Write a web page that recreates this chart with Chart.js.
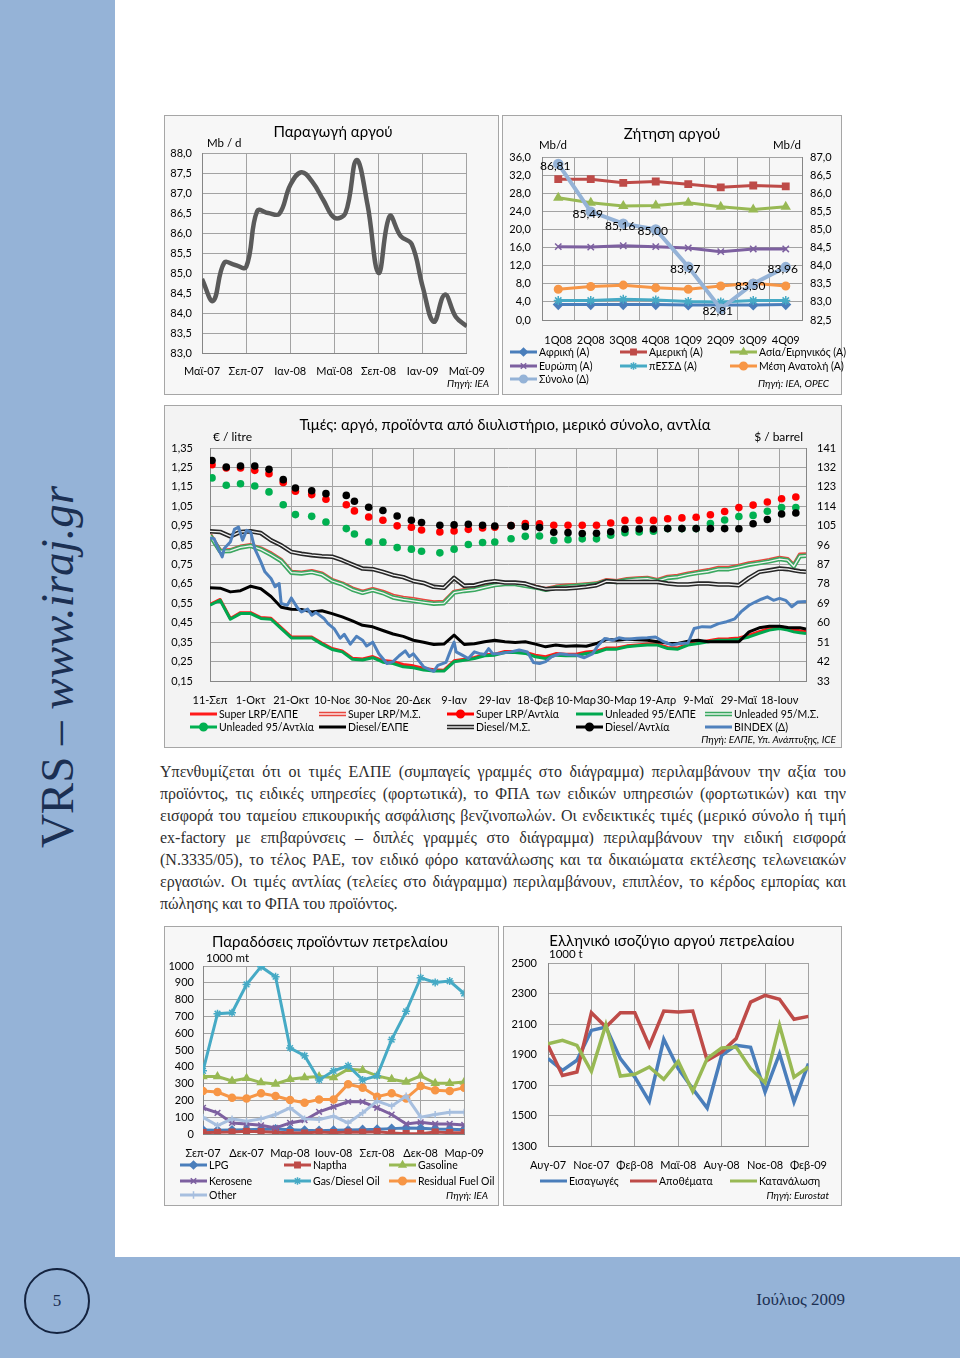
<!DOCTYPE html>
<html lang="el">
<head>
<meta charset="utf-8">
<title>VRS - σελίδα 5</title>
<script src="https://cdn.jsdelivr.net/npm/chart.js@4"></script>
<style>
  html, body { margin: 0; padding: 0; }
  body { width: 960px; height: 1358px; position: relative; overflow: hidden; background: #fff;
         font-family: Lato, "Noto Sans", sans-serif; }
  .side { position: absolute; left: 0; top: 0; width: 115px; height: 1358px; background: #95b3d7; }
  .foot { position: absolute; left: 0; top: 1257px; width: 960px; height: 101px; background: #95b3d7; }
  .brand { position: absolute; left: 57px; top: 667px; transform: translate(-50%, -50%) rotate(-90deg);
           font-family: "Liberation Serif", serif; font-size: 47px; color: #1b2f52; white-space: nowrap; }
  .pageno { position: absolute; left: 24px; top: 1268px; width: 66px; height: 66px; box-sizing: border-box;
            border: 2px solid #14233f; border-radius: 50%; font-family: "Liberation Serif", serif; font-size: 17px;
            color: #1b2f52; display: flex; align-items: center; justify-content: center; }
  .month { position: absolute; left: 845px; top: 1300px; transform: translate(-100%, -50%);
           font-family: "Liberation Serif", serif; font-size: 17px; color: #1b2f52; white-space: nowrap; }
  .box { position: absolute; box-sizing: border-box; border: 1.5px solid #a6a6a6; background: #f7f7f7; }
  canvas { position: absolute; z-index: 2; }
  .t { position: absolute; z-index: 3; line-height: 1; white-space: nowrap; color: #000; }
  .para { position: absolute; left: 160px; top: 761px; width: 686px; font-family: "Liberation Serif", serif;
          font-size: 16px; line-height: 22px; color: #2e2e2e; }
  .para div { text-align: justify; text-align-last: justify; }
  .para div.last { text-align-last: left; }
</style>
</head>
<body>
<div class="side"></div>
<div class="foot"></div>
<div class="brand">VRS – <i>www.iraj.gr</i></div>
<div class="pageno">5</div>
<div class="month">Ιούλιος 2009</div>

<div class="box" style="left:164px;top:115px;width:335px;height:280px"></div>
<div class="box" style="left:502px;top:115px;width:340px;height:280px"></div>
<div class="box" style="left:164px;top:405px;width:678px;height:343px;background:#f3f3f3"></div>
<div class="box" style="left:164px;top:926px;width:335px;height:280px"></div>
<div class="box" style="left:503px;top:926px;width:339px;height:280px"></div>

<div class="para">
  <div>Υπενθυμίζεται ότι οι τιμές ΕΛΠΕ (συμπαγείς γραμμές στο διάγραμμα) περιλαμβάνουν την αξία του</div>
  <div>προϊόντος, τις ειδικές υπηρεσίες (φορτωτικά), το ΦΠΑ των ειδικών υπηρεσιών (φορτωτικών) και την</div>
  <div>εισφορά του ταμείου επικουρικής ασφάλισης βενζινοπωλών. Οι ενδεικτικές τιμές (μερικό σύνολο ή τιμή</div>
  <div>ex-factory με επιβαρύνσεις – διπλές γραμμές στο διάγραμμα) περιλαμβάνουν την ειδική εισφορά</div>
  <div>(Ν.3335/05), το τέλος ΡΑΕ, τον ειδικό φόρο κατανάλωσης και τα δικαιώματα εκτέλεσης τελωνειακών</div>
  <div>εργασιών. Οι τιμές αντλίας (τελείες στο διάγραμμα) περιλαμβάνουν, επιπλέον, το κέρδος εμπορίας και</div>
  <div class="last">πώλησης και το ΦΠΑ του προϊόντος.</div>
</div>

<script>
// ---- Παραγωγή αργού (monthly, Μαϊ-07 .. Μαϊ-09) ----
const prodTicks = ['Μαϊ-07', 'Σεπ-07', 'Ιαν-08', 'Μαϊ-08', 'Σεπ-08', 'Ιαν-09', 'Μαϊ-09'];
const prodTickIdx = [0, 4, 8, 12, 16, 20, 24];
const prodValues = [84.85, 84.3, 85.25, 85.2, 85.15, 86.55, 86.5, 86.48, 87.2, 87.52, 87.28, 86.82, 86.38,
                    86.5, 87.82, 86.7, 85.0, 86.42, 85.92, 85.72, 84.65, 83.78, 84.46, 83.9, 83.67];

// ---- Ζήτηση αργού (quarterly) ----
const quarters = ['1Q08', '2Q08', '3Q08', '4Q08', '1Q09', '2Q09', '3Q09', '4Q09'];
const africa = [3.4, 3.4, 3.4, 3.4, 3.3, 3.3, 3.3, 3.4];
const america = [31.1, 31.1, 30.3, 30.6, 30.0, 29.3, 29.7, 29.5];
const asia = [27.0, 25.9, 25.2, 25.3, 25.9, 25.0, 24.4, 25.0];
const europe = [16.2, 16.1, 16.4, 16.2, 15.9, 15.1, 15.7, 15.7];
const fsu = [4.3, 4.3, 4.6, 4.4, 4.1, 4.0, 4.3, 4.3];
const mideast = [6.8, 7.4, 7.7, 7.1, 6.8, 7.5, 8.1, 7.5];
const demandTotal = [86.81, 85.49, 85.16, 85.00, 83.97, 82.81, 83.50, 83.96];

// ---- Τιμές (days since 11-Σεπ-08) ----
const priceTicks = ['11-Σεπ', '1-Οκτ', '21-Οκτ', '10-Νοε', '30-Νοε', '20-Δεκ', '9-Ιαν', '29-Ιαν',
                    '18-Φεβ', '10-Μαρ', '30-Μαρ', '19-Απρ', '9-Μαϊ', '29-Μαϊ', '18-Ιουν'];
const priceTickDays = [0, 20, 40, 60, 80, 100, 120, 140, 160, 180, 200, 220, 240, 260, 280];
const litreTicks = [0.15, 0.25, 0.35, 0.45, 0.55, 0.65, 0.75, 0.85, 0.95, 1.05, 1.15, 1.25, 1.35];
const barrelTicks = [33, 42, 51, 60, 69, 78, 87, 96, 105, 114, 123, 132, 141];

const lineDays = [0, 5, 10, 15, 20, 25, 30, 35, 40, 45, 50, 55, 60, 65, 70, 75, 80, 85, 90, 95, 100, 105,
                  110, 115, 120, 125, 130, 135, 140, 145, 150, 155, 160, 165, 170, 175, 180, 185, 190, 195,
                  200, 205, 210, 215, 220, 225, 230, 235, 240, 245, 250, 255, 260, 265, 270, 275, 280,
                  284, 287, 290, 293];
const superElpe = [0.545, 0.570, 0.472, 0.502, 0.502, 0.477, 0.473, 0.425, 0.377, 0.377, 0.377, 0.345, 0.317,
                   0.305, 0.267, 0.263, 0.276, 0.255, 0.250, 0.235, 0.228, 0.216, 0.208, 0.206, 0.254, 0.262,
                   0.271, 0.285, 0.288, 0.302, 0.302, 0.298, 0.283, 0.275, 0.291, 0.288, 0.288, 0.299, 0.304,
                   0.320, 0.320, 0.331, 0.336, 0.340, 0.340, 0.323, 0.320, 0.340, 0.349, 0.358, 0.366, 0.367,
                   0.372, 0.386, 0.404, 0.421, 0.429, 0.423, 0.414, 0.409, 0.406];
const superMs = [0.904, 0.820, 0.823, 0.841, 0.849, 0.832, 0.806, 0.772, 0.712, 0.708, 0.715, 0.703, 0.669,
                 0.652, 0.626, 0.609, 0.623, 0.609, 0.588, 0.578, 0.571, 0.562, 0.554, 0.557, 0.609, 0.618,
                 0.623, 0.635, 0.647, 0.652, 0.652, 0.643, 0.635, 0.623, 0.635, 0.640, 0.643, 0.647, 0.652,
                 0.669, 0.664, 0.674, 0.678, 0.681, 0.669, 0.686, 0.691, 0.703, 0.712, 0.720, 0.732, 0.732,
                 0.743, 0.755, 0.763, 0.772, 0.784, 0.777, 0.745, 0.800, 0.801];
const unlElpe = [0.540, 0.566, 0.468, 0.497, 0.497, 0.472, 0.468, 0.420, 0.372, 0.372, 0.372, 0.340, 0.312,
                 0.300, 0.262, 0.258, 0.270, 0.247, 0.240, 0.223, 0.218, 0.206, 0.201, 0.201, 0.249, 0.257,
                 0.266, 0.280, 0.283, 0.297, 0.297, 0.292, 0.275, 0.266, 0.283, 0.280, 0.280, 0.292, 0.297,
                 0.314, 0.314, 0.326, 0.331, 0.335, 0.335, 0.317, 0.314, 0.335, 0.343, 0.352, 0.360, 0.360,
                 0.365, 0.377, 0.395, 0.412, 0.420, 0.412, 0.403, 0.398, 0.395];
const unlMs = [0.900, 0.818, 0.820, 0.838, 0.846, 0.828, 0.800, 0.768, 0.708, 0.704, 0.711, 0.698, 0.665,
               0.648, 0.621, 0.604, 0.618, 0.603, 0.580, 0.570, 0.563, 0.555, 0.548, 0.551, 0.605, 0.614,
               0.620, 0.632, 0.644, 0.649, 0.649, 0.640, 0.632, 0.620, 0.631, 0.636, 0.640, 0.644, 0.649,
               0.665, 0.660, 0.670, 0.674, 0.677, 0.665, 0.681, 0.686, 0.698, 0.707, 0.714, 0.726, 0.726,
               0.737, 0.749, 0.757, 0.766, 0.778, 0.772, 0.740, 0.793, 0.795];
const dieselElpe = [0.630, 0.628, 0.609, 0.615, 0.638, 0.625, 0.585, 0.530, 0.520, 0.518, 0.506, 0.512, 0.497,
                    0.480, 0.460, 0.437, 0.429, 0.410, 0.392, 0.380, 0.360, 0.350, 0.338, 0.340, 0.386, 0.338,
                    0.342, 0.352, 0.360, 0.352, 0.348, 0.352, 0.340, 0.326, 0.335, 0.329, 0.331, 0.329, 0.343,
                    0.365, 0.360, 0.365, 0.362, 0.360, 0.352, 0.345, 0.343, 0.355, 0.360, 0.352, 0.352, 0.352,
                    0.352, 0.403, 0.424, 0.432, 0.432, 0.426, 0.424, 0.424, 0.417];
const dieselMs = [0.921, 0.918, 0.895, 0.918, 0.921, 0.912, 0.875, 0.849, 0.815, 0.805, 0.798, 0.793, 0.790,
                  0.772, 0.750, 0.729, 0.726, 0.712, 0.695, 0.685, 0.665, 0.655, 0.635, 0.630, 0.681, 0.640,
                  0.643, 0.657, 0.664, 0.657, 0.657, 0.652, 0.635, 0.623, 0.626, 0.626, 0.630, 0.635, 0.643,
                  0.664, 0.660, 0.660, 0.660, 0.660, 0.660, 0.652, 0.647, 0.647, 0.652, 0.652, 0.647, 0.647,
                  0.643, 0.681, 0.712, 0.720, 0.729, 0.726, 0.720, 0.715, 0.712];

const pumpDays = [1, 8, 15, 22, 29, 36, 42, 50, 57, 67, 71, 78, 85, 92, 99, 104, 113, 120, 127, 134, 140,
                  148, 155, 162, 169, 176, 183, 190, 197, 204, 211, 218, 225, 232, 239, 246, 253, 260, 267,
                  274, 281, 288];
const superPump = [1.264, 1.247, 1.247, 1.235, 1.218, 1.172, 1.127, 1.110, 1.086, 1.058, 1.026, 0.995, 0.978,
                   0.949, 0.942, 0.928, 0.918, 0.923, 0.931, 0.938, 0.942, 0.950, 0.961, 0.960, 0.952, 0.952,
                   0.952, 0.952, 0.964, 0.977, 0.977, 0.977, 0.986, 0.990, 0.993, 1.006, 1.023, 1.043, 1.056,
                   1.072, 1.089, 1.098];
const unlPump = [1.196, 1.158, 1.166, 1.154, 1.124, 1.058, 1.007, 0.998, 0.969, 0.935, 0.907, 0.866, 0.865,
                 0.837, 0.829, 0.818, 0.810, 0.829, 0.853, 0.863, 0.866, 0.883, 0.895, 0.897, 0.874, 0.878,
                 0.882, 0.882, 0.901, 0.914, 0.918, 0.921, 0.935, 0.935, 0.935, 0.961, 0.979, 0.997, 1.003,
                 1.024, 1.043, 1.043];
const dieselPump = [1.286, 1.252, 1.257, 1.257, 1.240, 1.187, 1.144, 1.130, 1.115, 1.106, 1.076, 1.045, 1.028,
                    1.000, 0.978, 0.966, 0.952, 0.954, 0.957, 0.952, 0.948, 0.950, 0.945, 0.940, 0.916, 0.914,
                    0.910, 0.911, 0.919, 0.932, 0.933, 0.933, 0.935, 0.935, 0.935, 0.935, 0.935, 0.934, 0.960,
                    0.982, 1.010, 1.015];

const bindexDays = [0, 2, 4, 6, 7, 10, 12, 14, 16, 18, 20, 22, 25, 27, 30, 32, 34, 35, 38, 40, 43, 45, 48, 50,
                    52, 56, 58, 61, 64, 66, 69, 72, 75, 77, 80, 83, 87, 90, 93, 96, 98, 100, 105, 110, 112,
                    116, 118, 120, 121, 124, 127, 130, 133, 135, 137, 139, 143, 148, 152, 156, 159, 162, 165,
                    168, 172, 176, 180, 184, 188, 191, 194, 198, 201, 205, 210, 215, 219, 223, 227, 231, 235,
                    238, 242, 246, 250, 254, 258, 261, 265, 268, 271, 274, 277, 280, 283, 286, 289, 293];
const bindex = [99.3, 99.0, 94.4, 90.5, 94.4, 97.4, 103.3, 104.4, 98.3, 102.8, 102.1, 94.4, 88.2, 83.6, 80.5,
                76.7, 78.2, 68.9, 68.1, 71.5, 66.9, 65.0, 66.3, 63.5, 64.8, 62.0, 59.6, 57.3, 52.8, 54.6,
                50.1, 53.7, 51.9, 49.2, 51.0, 45.6, 41.1, 42.0, 44.7, 47.0, 44.3, 45.6, 39.6, 37.5, 40.2,
                41.6, 46.5, 51.0, 46.5, 45.0, 43.4, 46.5, 45.6, 45.3, 48.0, 45.6, 45.8, 46.5, 47.4, 46.5,
                41.6, 41.1, 42.0, 44.3, 45.6, 45.2, 45.0, 43.8, 45.6, 49.7, 52.7, 51.9, 53.0, 52.4, 52.8,
                53.0, 53.4, 51.2, 49.7, 50.4, 50.6, 57.3, 58.2, 58.0, 59.6, 60.5, 61.8, 65.0, 68.1, 69.6,
                70.9, 72.0, 70.4, 71.3, 70.4, 67.4, 69.6, 69.9];

// ---- Παραδόσεις προϊόντων (monthly, Σεπ-07 .. Μαρ-09) ----
const delivTicks = ['Σεπ-07', 'Δεκ-07', 'Μαρ-08', 'Ιουν-08', 'Σεπ-08', 'Δεκ-08', 'Μαρ-09'];
const lpg = [24, 22, 24, 26, 28, 30, 26, 22, 20, 22, 24, 26, 28, 32, 36, 34, 30, 28, 26];
const naptha = [8, 10, 12, 16, 14, 10, 8, 6, 12, 8, 12, 10, 14, 6, 2, 2, 12, 8, 8];
const gasoline = [342, 342, 316, 332, 306, 298, 326, 336, 342, 336, 386, 380, 346, 326, 310, 346, 302, 302, 310];
const kerosene = [156, 126, 66, 60, 52, 36, 66, 82, 132, 162, 192, 192, 156, 116, 60, 70, 60, 60, 54];
const gasDiesel = [376, 716, 722, 890, 996, 936, 512, 466, 322, 376, 406, 322, 346, 562, 730, 930, 902, 910, 836];
const residual = [256, 250, 216, 212, 242, 226, 202, 186, 206, 206, 296, 276, 222, 242, 212, 286, 260, 256, 276];
const otherProd = [100, 50, 90, 76, 90, 116, 156, 90, 86, 106, 66, 126, 196, 166, 226, 100, 116, 130, 130];

// ---- Ελληνικό ισοζύγιο (monthly, Αυγ-07 .. Φεβ-09) ----
const balanceTicks = ['Αυγ-07', 'Νοε-07', 'Φεβ-08', 'Μαϊ-08', 'Αυγ-08', 'Νοε-08', 'Φεβ-09'];
const imports = [1873, 1796, 1862, 2058, 2080, 1873, 1752, 1593, 2000, 1807, 1676, 1549, 1894, 1960, 1947,
                 1654, 1905, 1588, 1840];
const stocks = [1960, 1763, 1785, 2174, 2080, 2174, 2174, 1956, 2185, 2179, 2185, 1862, 1916, 2004, 2244,
                2288, 2262, 2131, 2150];
const consumption = [1971, 1993, 1960, 1790, 2096, 1759, 1770, 1818, 1737, 1855, 1658, 1873, 1943, 1949, 1807,
                     1715, 2091, 1752, 1818];

const FONT = 'Lato, "Noto Sans", sans-serif';
Chart.defaults.font.family = FONT;
Chart.defaults.font.size = 11;
Chart.defaults.color = '#000';
Chart.defaults.animation = false;
Chart.defaults.responsive = false;
Chart.defaults.events = [];
Chart.defaults.plugins.legend.display = false;
Chart.defaults.plugins.tooltip.enabled = false;

const GRID = '#a3a3a3';
const AXIS = '#868686';

function makeCanvas(x, y, w, h) {
    const c = document.createElement('canvas');
    c.width = w;
    c.height = h;
    c.style.left = x + 'px';
    c.style.top = y + 'px';
    c.style.width = w + 'px';
    c.style.height = h + 'px';
    document.body.appendChild(c);
    return c;
}

function txt(x, y, s, o = {}) {
    const d = document.createElement('div');
    d.className = 't';
    d.textContent = s;
    d.style.left = x + 'px';
    d.style.top = y + 'px';
    d.style.fontSize = (o.size || 11) + 'px';
    if (o.italic) d.style.fontStyle = 'italic';
    const ax = o.align === 'c' ? '-50%' : o.align === 'r' ? '-100%' : '0';
    d.style.transform = `translate(${ax},-50%)`;
    document.body.appendChild(d);
}

const pts = (xs, ys) => xs.map((x, i) => ({ x, y: ys[i] }));
const comma = (v, n) => v.toFixed(n).replace('.', ',');
const fixedTicks = list => s => { s.ticks = list.map(v => ({ value: v })); };
const fixW = w => s => { s.width = w; };
const fixH = h => s => { s.height = h; };

// y axis helper
function yAxis(min, max, list, dec, pad, w, pos) {
    return {
        position: pos || 'left', min, max,
        afterBuildTicks: fixedTicks(list),
        ticks: { callback: v => dec == null ? v : comma(v, dec), padding: pad },
        grid: { color: GRID, drawTicks: false, drawOnChartArea: pos !== 'right' },
        border: { color: AXIS },
        afterFit: fixW(w)
    };
}
function xLinear(min, max, tickVals, labels, pad, h) {
    return {
        type: 'linear', min, max,
        afterBuildTicks: fixedTicks(tickVals),
        ticks: { callback: (v, i) => labels[i], padding: pad, maxRotation: 0, autoSkip: false },
        grid: { color: GRID, drawTicks: false },
        border: { color: AXIS },
        afterFit: fixH(h)
    };
}
function markerLine(data, color, style, extra) {
    return Object.assign({
        data, borderColor: color, backgroundColor: color, borderWidth: 3,
        pointStyle: style, pointRadius: 3.8, pointBackgroundColor: color, pointBorderColor: color,
        pointBorderWidth: 1.5, tension: 0
    }, extra || {});
}

// ---------- Chart 1: Παραγωγή αργού ----------
new Chart(makeCanvas(165, 116, 332, 277), {
    type: 'line',
    data: { datasets: [{ data: prodValues.map((v, i) => ({ x: i, y: v })), borderColor: '#5a5a5a',
                         borderWidth: 4.5, pointRadius: 0, tension: 0.4 }] },
    options: {
        devicePixelRatio: 1,
        layout: { padding: { top: 37, right: 22, left: 0, bottom: 0 } },
        scales: {
            x: xLinear(0, 24, prodTickIdx, prodTicks, 12, 40),
            y: yAxis(83, 88, [83, 83.5, 84, 84.5, 85, 85.5, 86, 86.5, 87, 87.5, 88], 1, 10, 37)
        }
    }
});
txt(333, 131, 'Παραγωγή αργού', { size: 15, align: 'c' });
txt(207, 143, 'Mb / d', { size: 11.5 });
txt(489, 383, 'Πηγή: IEA', { size: 10, italic: true, align: 'r' });

// ---------- Chart 2: Ζήτηση αργού ----------
const totalLabels = {
    id: 'totalLabels',
    afterDatasetsDraw(chart) {
        const meta = chart.getDatasetMeta(0);
        const ctx = chart.ctx;
        ctx.save();
        ctx.font = '12px ' + FONT;
        ctx.fillStyle = '#000';
        ctx.textAlign = 'center';
        ctx.textBaseline = 'middle';
        meta.data.forEach((p, i) => ctx.fillText(comma(demandTotal[i], 2), p.x - 3, p.y + 2));
        ctx.restore();
    }
};
new Chart(makeCanvas(503, 116, 337, 277), {
    type: 'line',
    data: {
        labels: quarters,
        datasets: [
            markerLine(demandTotal, '#95b3d7', 'circle', { yAxisID: 'yR', borderWidth: 4, pointRadius: 4.5 }),
            markerLine(mideast, '#f79646', 'circle'),
            markerLine(fsu, '#46aac5', 'star', { pointRadius: 4.5 }),
            markerLine(europe, '#7d60a0', 'crossRot', { pointRadius: 4.5 }),
            markerLine(asia, '#98b954', 'triangle', { pointRadius: 4.5 }),
            markerLine(america, '#be4b48', 'rect', { pointRadius: 4.5 }),
            markerLine(africa, '#4a7ebb', 'rectRot', { pointRadius: 4.5 })
        ]
    },
    options: {
        devicePixelRatio: 1,
        layout: { padding: { top: 41, right: 0, left: 0, bottom: 0 } },
        scales: {
            x: { type: 'category', offset: true, grid: { offset: true, color: GRID, drawTicks: false },
                 border: { color: AXIS }, ticks: { padding: 14, maxRotation: 0 }, afterFit: fixH(73) },
            y: yAxis(0, 36, [0, 4, 8, 12, 16, 20, 24, 28, 32, 36], 1, 11, 39),
            yR: yAxis(82.5, 87, [82.5, 83, 83.5, 84, 84.5, 85, 85.5, 86, 86.5, 87], 1, 8, 38, 'right')
        }
    },
    plugins: [totalLabels]
});
txt(672, 133, 'Ζήτηση αργού', { size: 15, align: 'c' });
txt(539, 145, 'Mb/d', { size: 11.5 });
txt(801, 145, 'Mb/d', { size: 11.5, align: 'r' });
txt(829, 383, 'Πηγή: IEA, OPEC', { size: 10, italic: true, align: 'r' });

// ---------- Chart 3: Τιμές ----------
const PRICE_BG = '#f3f3f3';
function solid(days, vals, color, z, extra) {
    return Object.assign({ data: pts(days, vals), borderColor: color, borderWidth: 3, pointRadius: 0,
                           tension: 0, order: 200 - z * 10, borderJoinStyle: 'round' }, extra || {});
}
function dots(vals, color, z) {
    return { data: pts(pumpDays, vals), showLine: false, pointRadius: 3.8, pointBackgroundColor: color,
             pointBorderColor: color, pointBorderWidth: 0, order: 200 - z * 10 };
}
new Chart(makeCanvas(165, 406, 675, 340), {
    type: 'line',
    data: {
        datasets: [
            solid(lineDays, superElpe, '#ff1a1a', 1),
            solid(lineDays, superMs, '#e8473f', 2, { borderWidth: 4.5 }),
            solid(lineDays, superMs, PRICE_BG, 2.5, { borderWidth: 1.3 }),
            dots(superPump, '#ff0000', 3),
            solid(lineDays, unlElpe, '#00a84f', 4),
            solid(lineDays, unlMs, '#3aa860', 5, { borderWidth: 4.5 }),
            solid(lineDays, unlMs, PRICE_BG, 5.5, { borderWidth: 1.3 }),
            dots(unlPump, '#00b050', 6),
            solid(lineDays, dieselElpe, '#000000', 7),
            solid(lineDays, dieselMs, '#262626', 8, { borderWidth: 4.5 }),
            solid(lineDays, dieselMs, PRICE_BG, 8.5, { borderWidth: 1.3 }),
            dots(dieselPump, '#000000', 9),
            solid(bindexDays, bindex, '#4f81bd', 10, { yAxisID: 'y2' })
        ]
    },
    options: {
        devicePixelRatio: 1,
        layout: { padding: { top: 42, right: 0, left: 0, bottom: 0 } },
        scales: {
            x: xLinear(0, 293, priceTickDays, priceTicks, 13, 65),
            y: yAxis(0.15, 1.35, litreTicks, 2, 17, 45),
            y2: yAxis(33, 141, barrelTicks, null, 11, 34, 'right')
        }
    }
});
txt(505, 424, 'Τιμές: αργό, προϊόντα από διυλιστήριο, μερικό σύνολο, αντλία', { size: 15, align: 'c' });
txt(213, 437, '€ / litre', { size: 12 });
txt(803, 437, '$ / barrel', { size: 12, align: 'r' });
txt(836, 739, 'Πηγή: ΕΛΠΕ, Υπ. Ανάπτυξης, ICE', { size: 10, italic: true, align: 'r' });

// ---------- Chart 4: Παραδόσεις προϊόντων πετρελαίου ----------
const mIdx = a => a.map((v, i) => ({ x: i, y: v }));
new Chart(makeCanvas(165, 927, 332, 277), {
    type: 'line',
    data: {
        datasets: [
            markerLine(mIdx(otherProd), '#a7bfdf', 'cross', { pointRadius: 3.5 }),
            markerLine(mIdx(residual), '#f79646', 'circle', { pointRadius: 3.5 }),
            markerLine(mIdx(gasDiesel), '#46aac5', 'star', { pointRadius: 4 }),
            markerLine(mIdx(kerosene), '#7d60a0', 'crossRot', { pointRadius: 4 }),
            markerLine(mIdx(gasoline), '#98b954', 'triangle', { pointRadius: 4 }),
            markerLine(mIdx(naptha), '#be4b48', 'rect', { pointRadius: 4 }),
            markerLine(mIdx(lpg), '#4a7ebb', 'rectRot', { pointRadius: 4 })
        ]
    },
    options: {
        devicePixelRatio: 1,
        layout: { padding: { top: 39, right: 22, left: 0, bottom: 0 } },
        scales: {
            x: xLinear(0, 18, [0, 3, 6, 9, 12, 15, 18], delivTicks, 13, 70),
            y: yAxis(0, 1000, [0, 100, 200, 300, 400, 500, 600, 700, 800, 900, 1000], null, 9, 38)
        }
    }
});
txt(330, 941, 'Παραδόσεις προϊόντων πετρελαίου', { size: 15, align: 'c' });
txt(206, 958, '1000 mt', { size: 11.5 });
txt(488, 1195, 'Πηγή: IEA', { size: 10, italic: true, align: 'r' });

// ---------- Chart 5: Ελληνικό ισοζύγιο ----------
new Chart(makeCanvas(504, 927, 336, 277), {
    type: 'line',
    data: {
        datasets: [
            { data: mIdx(consumption), borderColor: '#98b954', borderWidth: 3.5, pointRadius: 0, tension: 0 },
            { data: mIdx(stocks), borderColor: '#be4b48', borderWidth: 3.5, pointRadius: 0, tension: 0 },
            { data: mIdx(imports), borderColor: '#4a7ebb', borderWidth: 3.5, pointRadius: 0, tension: 0 }
        ]
    },
    options: {
        devicePixelRatio: 1,
        layout: { padding: { top: 36, right: 25, left: 0, bottom: 0 } },
        scales: {
            x: xLinear(0, 18, [0, 3, 6, 9, 12, 15, 18], balanceTicks, 13, 58),
            y: yAxis(1300, 2500, [1300, 1500, 1700, 1900, 2100, 2300, 2500], null, 11, 44)
        }
    }
});
txt(672, 940, 'Ελληνικό ισοζύγιο αργού πετρελαίου', { size: 15, align: 'c' });
txt(549, 954, '1000 t', { size: 11.5 });
txt(829, 1195, 'Πηγή: Eurostat', { size: 10, italic: true, align: 'r' });

// ---------- Legends (swatches drawn with Chart.js point helper) ----------
const legends = [
    // Ζήτηση αργού
    [510, 352, 'Αφρική (A)', { color: '#4a7ebb', marker: 'rectRot' }],
    [620, 352, 'Αμερική (A)', { color: '#be4b48', marker: 'rect' }],
    [730, 352, 'Ασία/Ειρηνικός (A)', { color: '#98b954', marker: 'triangle' }],
    [510, 366, 'Ευρώπη (A)', { color: '#7d60a0', marker: 'crossRot' }],
    [620, 366, 'πΕΣΣΔ (A)', { color: '#46aac5', marker: 'star' }],
    [730, 366, 'Μέση Ανατολή (A)', { color: '#f79646', marker: 'circle' }],
    [510, 379, 'Σύνολο (Δ)', { color: '#95b3d7', marker: 'circle' }],
    // Τιμές
    [190, 714, 'Super LRP/ΕΛΠΕ', { color: '#ff1a1a' }],
    [319, 714, 'Super LRP/Μ.Σ.', { color: '#e8473f', dbl: true }],
    [447, 714, 'Super LRP/Αντλία', { color: '#ff0000', marker: 'circle' }],
    [576, 714, 'Unleaded 95/ΕΛΠΕ', { color: '#00a84f' }],
    [705, 714, 'Unleaded 95/Μ.Σ.', { color: '#3aa860', dbl: true }],
    [190, 727, 'Unleaded 95/Αντλία', { color: '#00b050', marker: 'circle' }],
    [319, 727, 'Diesel/ΕΛΠΕ', { color: '#000' }],
    [447, 727, 'Diesel/Μ.Σ.', { color: '#262626', dbl: true }],
    [576, 727, 'Diesel/Αντλία', { color: '#000', marker: 'circle' }],
    [705, 727, 'BINDEX (Δ)', { color: '#4f81bd' }],
    // Παραδόσεις
    [180, 1165, 'LPG', { color: '#4a7ebb', marker: 'rectRot' }],
    [284, 1165, 'Naptha', { color: '#be4b48', marker: 'rect' }],
    [389, 1165, 'Gasoline', { color: '#98b954', marker: 'triangle' }],
    [180, 1181, 'Kerosene', { color: '#7d60a0', marker: 'crossRot' }],
    [284, 1181, 'Gas/Diesel Oil', { color: '#46aac5', marker: 'star' }],
    [389, 1181, 'Residual Fuel Oil', { color: '#f79646', marker: 'circle' }],
    [180, 1195, 'Other', { color: '#a7bfdf', marker: 'cross' }],
    // Ισοζύγιο
    [540, 1181, 'Εισαγωγές', { color: '#4a7ebb' }],
    [630, 1181, 'Αποθέματα', { color: '#be4b48' }],
    [730, 1181, 'Κατανάλωση', { color: '#98b954' }]
];
const lc = makeCanvas(0, 0, 960, 1358);
const lctx = lc.getContext('2d');
legends.forEach(([x, y, label, s]) => {
    lctx.save();
    lctx.strokeStyle = s.color;
    lctx.lineWidth = s.dbl ? 4.5 : 3;
    lctx.beginPath();
    lctx.moveTo(x, y);
    lctx.lineTo(x + 27, y);
    lctx.stroke();
    if (s.dbl) {
        lctx.strokeStyle = '#ffffff';
        lctx.lineWidth = 1.3;
        lctx.beginPath();
        lctx.moveTo(x, y);
        lctx.lineTo(x + 27, y);
        lctx.stroke();
    }
    if (s.marker) {
        lctx.fillStyle = s.color;
        lctx.lineWidth = 1.5;
        const opt = { pointStyle: s.marker, radius: 3.8, rotation: 0, borderWidth: 1.5 };
        if (Chart.helpers && Chart.helpers.drawPoint) {
            Chart.helpers.drawPoint(lctx, opt, x + 13.5, y);
        } else {
            lctx.beginPath();
            lctx.arc(x + 13.5, y, 3.5, 0, Math.PI * 2);
            lctx.fill();
        }
    }
    lctx.restore();
    txt(x + 29, y, label, { size: 10.5 });
});
</script>
</body>
</html>
